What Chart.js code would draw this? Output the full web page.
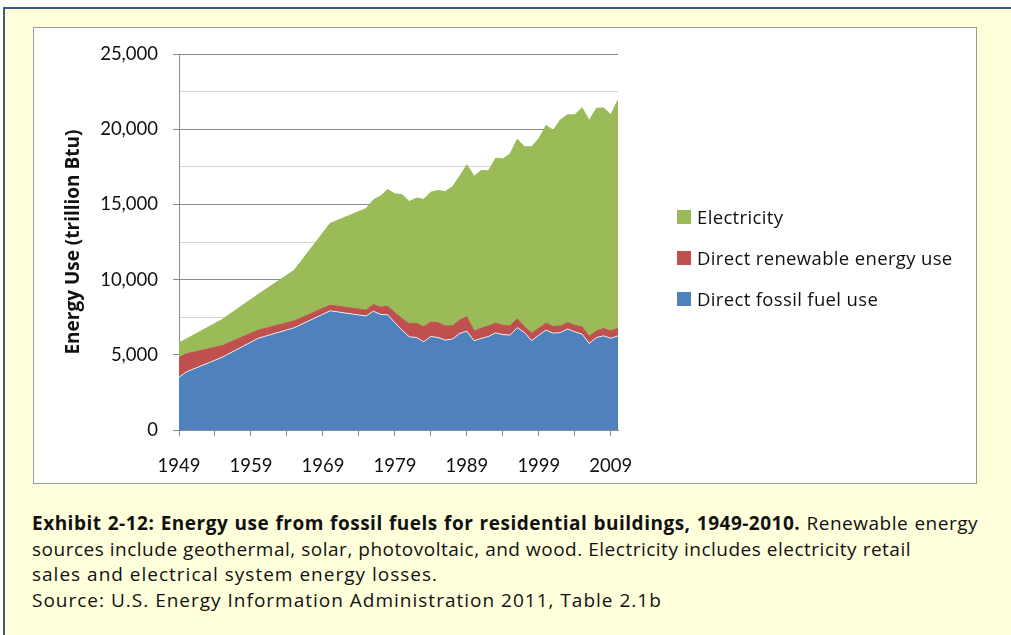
<!DOCTYPE html>
<html>
<head>
<meta charset="utf-8">
<script src="https://cdn.jsdelivr.net/npm/chart.js@4"></script>
<style>
  html, body { margin: 0; padding: 0; background: #fff; }
  body { width: 1011px; height: 635px; overflow: hidden; position: relative; font-family: "Open Sans", sans-serif; }
  #frame { position: absolute; left: 3px; top: 7px; width: 1100px; height: 700px;
           border: 2px solid #3b5a85; background: #ffffdc; }
  #box { position: absolute; left: 33px; top: 27px; width: 942px; height: 455px;
         border: 1px solid #9a9a9a; background: #fff; }
  #box canvas { display: block; }
  #legend { position: absolute; left: 677px; top: 206px; }
  #legend .row { display: flex; align-items: center; height: 21px; margin-bottom: 20px;
                 font-size: 18.5px; letter-spacing: 0.35px; color: #111; white-space: nowrap; }
  #legend .sw { width: 14px; height: 14px; margin-right: 6px; flex: none; }
  #caption { position: absolute; left: 32px; top: 511px; font-size: 19px; letter-spacing: 0.5px;
             line-height: 25.7px; color: #111; white-space: nowrap; }
  #caption .ln { display: block; }
  #caption .fit { white-space: normal; text-align: justify; text-align-last: justify; }
  #caption .wide { letter-spacing: 1px; }
</style>
</head>
<body>
<div id="frame"></div>
<div id="box"><canvas id="chart" width="942" height="455"></canvas></div>
<div id="legend"></div>
<div id="caption">
  <span class="ln fit" style="width:946px"><b>Exhibit 2-12: Energy use from fossil fuels for residential buildings, 1949-2010.</b> Renewable energy</span>
  <span class="ln fit" style="width:879px">sources include geothermal, solar, photovoltaic, and wood. Electricity includes electricity retail</span>
  <span class="ln wide">sales and electrical system energy losses.</span>
  <span class="ln wide">Source: U.S. Energy Information Administration 2011, Table 2.1b</span>
</div>
<script>
// Residential energy use, trillion Btu.
// Early years are only given at 5-year steps in the source table.
const years = [1949, 1950, 1955, 1960, 1965, 1970,
  1975, 1976, 1977, 1978, 1979, 1980, 1981, 1982, 1983, 1984, 1985, 1986, 1987, 1988, 1989,
  1990, 1991, 1992, 1993, 1994, 1995, 1996, 1997, 1998, 1999, 2000, 2001, 2002, 2003, 2004,
  2005, 2006, 2007, 2008, 2009, 2010];

const fossil = [3510, 3860, 4840, 6100, 6800, 7930,
  7580, 7900, 7690, 7660, 7140, 6640, 6200, 6150, 5870, 6220, 6150, 5980, 6050, 6420, 6570,
  5940, 6090, 6220, 6460, 6350, 6310, 6810, 6480, 5940, 6310, 6640, 6440, 6480, 6720, 6530,
  6380, 5760, 6150, 6260, 6110, 6260];

const renewable = [1310, 1200, 770, 540, 450, 370,
  390, 440, 480, 570, 660, 760, 870, 950, 990, 960, 990, 940, 870, 890, 960,
  650, 680, 700, 640, 610, 610, 590, 400, 500, 460, 460, 440, 440, 420, 430,
  480, 460, 440, 490, 480, 510];

const electricity = [980, 990, 1740, 2380, 3370, 5440,
  6760, 6960, 7390, 7760, 7910, 8250, 8120, 8330, 8480, 8640, 8790, 8940, 9250, 9560, 10110,
  10280, 10490, 10320, 10980, 11070, 11440, 11940, 11960, 12400, 12610, 13160, 13050, 13710, 13820, 14000,
  14580, 14370, 14810, 14670, 14370, 15190];

const xTicks = [1949, 1954, 1959, 1964, 1969, 1974, 1979, 1984, 1989, 1994, 1999, 2004, 2009];

const BLUE = '#4f81bd', RED = '#c0504d', GREEN = '#9bbb59';
const pts = arr => arr.map((v, i) => ({ x: years[i], y: v }));

const chart = new Chart(document.getElementById('chart'), {
  type: 'line',
  data: {
    datasets: [
      { label: 'Direct fossil fuel use', data: pts(fossil), backgroundColor: BLUE,
        borderColor: 'rgba(255,255,255,0.8)', borderWidth: 1, fill: 'origin' },
      { label: 'Direct renewable energy use', data: pts(renewable), backgroundColor: RED,
        borderColor: RED, borderWidth: 1, fill: '-1' },
      { label: 'Electricity', data: pts(electricity), backgroundColor: GREEN,
        borderColor: GREEN, borderWidth: 1, fill: '-1' },
    ]
  },
  options: {
    responsive: false,
    animation: false,
    layout: { padding: { top: 23, right: 358, bottom: 0, left: 0 } },
    elements: { point: { radius: 0 }, line: { tension: 0 } },
    plugins: { legend: { display: false }, tooltip: { enabled: false } },
    scales: {
      x: {
        type: 'linear', min: 1949, max: 2010,
        afterBuildTicks: s => { s.ticks = xTicks.map(v => ({ value: v })); },
        afterFit: s => { s.height = 53; },
        border: { color: '#8a8a8a', width: 1 },
        grid: { drawOnChartArea: false, color: '#8a8a8a', tickLength: 6 },
        ticks: {
          padding: 19, color: '#111', font: { family: 'Lato', size: 18.5 }, maxRotation: 0, autoSkip: false,
          callback: v => ((v - 1949) % 10 === 0 ? String(v) : '')
        }
      },
      y: {
        stacked: true, min: 0, max: 25000,
        afterFit: s => { s.width = 145; },
        border: { color: '#8a8a8a', width: 1 },
        grid: {
          color: c => (c.tick.value % 5000 === 0 ? '#8a8a8a' : '#d4d4d4'),
          tickColor: c => (c.tick.value % 5000 === 0 ? '#8a8a8a' : 'rgba(0,0,0,0)'),
          tickLength: 6
        },
        ticks: {
          stepSize: 2500, padding: 15, color: '#111', font: { family: 'Lato', size: 18.5 },
          callback: v => (v % 5000 === 0 ? v.toLocaleString('en-US') : '')
        },
        title: {
          display: true, text: 'Energy Use (trillion Btu)', color: '#111',
          font: { family: 'Open Sans', size: 19, weight: 'bold' }, padding: { top: 28, bottom: 0 }
        }
      }
    }
  }
});

// HTML legend, top to bottom in reverse stacking order
const legendEl = document.getElementById('legend');
chart.options.plugins.legend.labels.generateLabels(chart).reverse().forEach(item => {
  const row = document.createElement('div');
  row.className = 'row';
  row.innerHTML = `<span class="sw" style="background:${item.fillStyle}"></span>${item.text}`;
  legendEl.appendChild(row);
});
</script>
</body>
</html>
